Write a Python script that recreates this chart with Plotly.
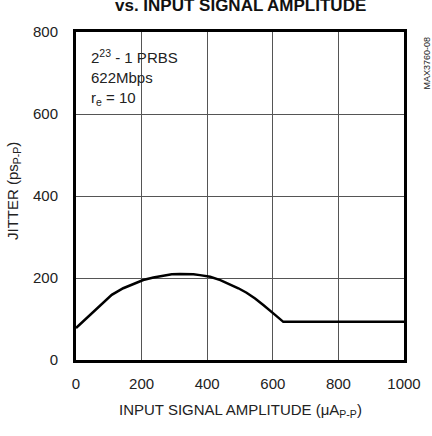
import plotly.graph_objects as go

amp = [0, 4, 43, 83, 109, 144, 175, 205, 236, 266, 292, 317, 337, 358, 378, 409, 440, 470, 495, 520, 546, 571, 590, 607, 632, 700, 800, 900, 1000]
jitter = [78, 81, 110, 140, 159, 175, 186, 195, 201, 206, 209, 210, 210, 209, 207, 203, 195, 185, 175, 164, 150, 134, 122, 110, 93, 93, 93, 93, 93]
xticks = [0, 200, 400, 600, 800, 1000]
yticks = [0, 200, 400, 600, 800]

FONT = "Liberation Sans, Arial, sans-serif"

fig = go.Figure()
fig.add_trace(go.Scatter(x=amp, y=jitter, mode="lines",
                         line=dict(color="black", width=2.5, shape="linear"),
                         hoverinfo="skip", showlegend=False))

fig.update_layout(
    width=432, height=436,
    margin=dict(l=76, r=28, t=32, b=76),
    paper_bgcolor="white", plot_bgcolor="white",
    font=dict(family=FONT, size=15, color="#222"),
    xaxis=dict(range=[0, 1000], tickvals=xticks, showgrid=True, gridcolor="#555", gridwidth=1,
               showline=True, linecolor="black", linewidth=3, mirror=True, zeroline=False,
               ticks="outside", ticklen=8, tickcolor="rgba(0,0,0,0)", tickfont=dict(size=15)),
    yaxis=dict(range=[0, 800], tickvals=yticks, showgrid=True, gridcolor="#555", gridwidth=1,
               showline=True, linecolor="black", linewidth=3, mirror=True, zeroline=False,
               ticks="outside", ticklen=12, tickcolor="rgba(0,0,0,0)", tickfont=dict(size=15)),
)

# chart title (cut at top like the reference)
fig.add_annotation(xref="paper", yref="paper", x=(240 - 76) / 328, y=1.0, yshift=15,
                   text="<b>vs. INPUT SIGNAL AMPLITUDE</b>", showarrow=False,
                   font=dict(size=17, color="#111"), xanchor="center", yanchor="bottom")

# axis titles
fig.add_annotation(xref="paper", yref="paper", x=(240 - 76) / 328, y=0, yshift=-50,
                   text="INPUT SIGNAL AMPLITUDE (μA<sub>P-P</sub>)", showarrow=False,
                   font=dict(size=15, color="#222"), xanchor="center", yanchor="middle")
fig.add_annotation(xref="paper", yref="paper", x=0, xshift=-63, y=0.5, yshift=5,
                   text="JITTER (ps<sub>P-P</sub>)", showarrow=False, textangle=-90,
                   font=dict(size=15, color="#222"), xanchor="center", yanchor="middle")

# condition labels
for i, t in enumerate(["2<sup>23</sup> - 1 PRBS", "622Mbps", "r<sub>e</sub> = 10"]):
    fig.add_annotation(xref="paper", yref="paper", x=0.04, y=1.0, yshift=-(24 + 21 * i),
                       xanchor="left", yanchor="middle", align="left", showarrow=False,
                       text=t, font=dict(size=15, color="#222"))

fig.add_annotation(xref="paper", yref="paper", x=1.0, y=1.0, xshift=22, yshift=-3,
                   xanchor="center", yanchor="top", textangle=-90, showarrow=False,
                   text="MAX3760-08", font=dict(size=9, color="#222"))

fig.write_html("out.html", config={"displayModeBar": False},
               post_script="document.body.style.margin='0';")
